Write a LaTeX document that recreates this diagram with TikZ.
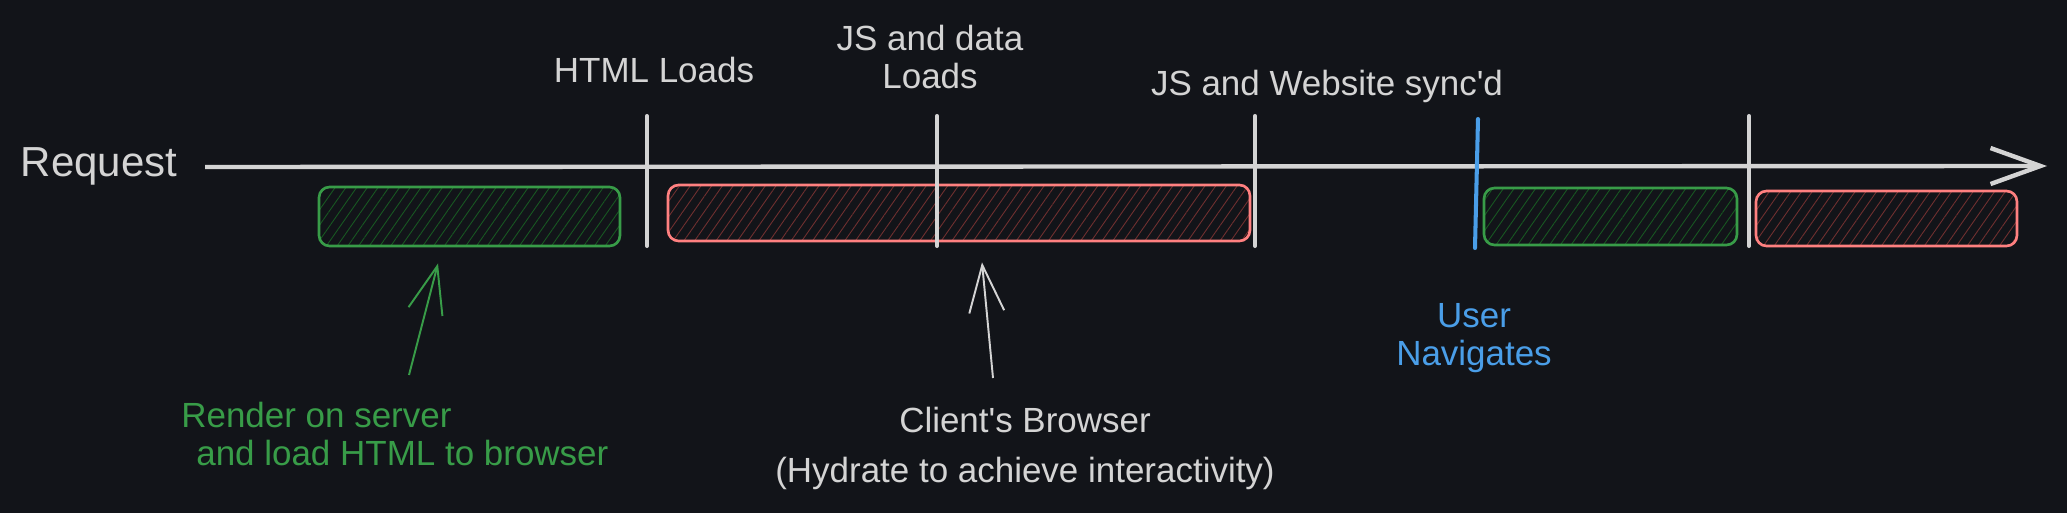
\documentclass[tikz,border=0pt]{standalone}
\usepackage{fontspec}
\setmainfont{Liberation Sans}
\usepackage{tikz}
\usetikzlibrary{arrows.meta,patterns.meta,calc}
\definecolor{NightBg}{RGB}{18,20,25}
\definecolor{ChalkWhite}{RGB}{212,212,212}
\definecolor{ServerGreen}{RGB}{56,156,72}
\definecolor{ServerHatch}{RGB}{24,88,34}
\definecolor{ClientRed}{RGB}{255,128,128}
\definecolor{ClientHatch}{RGB}{112,48,48}
\definecolor{NavBlue}{RGB}{74,158,232}
\tikzset{
  lbl/.style={inner sep=0pt,anchor=north,text=ChalkWhite,
    font=\fontsize{19.9}{21.5}\selectfont},
  hatchbar/.style={draw=#1,line width=1.5pt,rounded corners=6pt,inner sep=0pt},
  greenbar/.style={hatchbar=ServerGreen,
    pattern={Lines[angle=55,distance=5pt,line width=0.5pt]},pattern color=ServerHatch},
  redbar/.style={hatchbar=ClientRed,
    pattern={Lines[angle=55,distance=5pt,line width=0.5pt]},pattern color=ClientHatch},
  tick/.style={line width=2.3pt,line cap=round},
  sketcharrow/.style={-{Straight Barb[length=0.94cm,width=0.7cm]},line width=1.1pt}
}
\begin{document}
\begin{tikzpicture}[x=0.02cm,y=-0.02cm]
  \fill[NightBg] (0,0) rectangle (2067,513);
  \node[lbl,font=\fontsize{23.9}{26}\selectfont] (req) at (99,147) {Request};
  \coordinate (axL) at (205,167);
  \coordinate (axR) at (2047,166);
  \draw[ChalkWhite,line width=2.5pt,-{Straight Barb[length=1cm,width=0.72cm]}] (axL) -- (axR);
  \node[greenbar,minimum width=6.02cm,minimum height=1.18cm] (ssrbar) at (469.5,216.5) {};
  \node[redbar,minimum width=11.64cm,minimum height=1.12cm] (hydbar) at (959,213) {};
  \node[greenbar,minimum width=5.06cm,minimum height=1.14cm] (ssrbarb) at (1610.5,216.5) {};
  \node[redbar,minimum width=5.22cm,minimum height=1.1cm] (hydbarb) at (1886.5,218.5) {};
  \foreach \tx in {647,937,1255,1749}
    \draw[tick,ChalkWhite] (\tx,116) -- (\tx,246);
  \draw[tick,NavBlue] (1478,119) -- (1475,248);
  \node[lbl] (html) at (654,57) {HTML Loads};
  \node[lbl,align=center] (jsdata) at (930,25) {JS and data\\Loads};
  \node[lbl] (sync) at (1327,70) {JS and Website sync\textquotesingle d};
  \node[lbl,align=center,text=NavBlue] (nav) at (1474,303) {User\\Navigates};
  \node[lbl,anchor=north west,align=left,text=ServerGreen] (srvtxt) at (181,402)
    {Render on server\\\hspace{0.3cm}and load HTML to browser};
  \node[lbl,align=center] (clienttxt) at (1025,407)
    {Client\textquotesingle s Browser\\[7pt](Hydrate to achieve interactivity)};
  \coordinate (ssrtail) at (409,375);
  \coordinate (hydtail) at (993,378);
  \draw[sketcharrow,ServerGreen] (ssrtail) -- ($(ssrbar.south)+(-31.5,17)$);
  \draw[sketcharrow,ChalkWhite] (hydtail) -- ($(hydbar.south)+(23,20)$);
\end{tikzpicture}
\end{document}
